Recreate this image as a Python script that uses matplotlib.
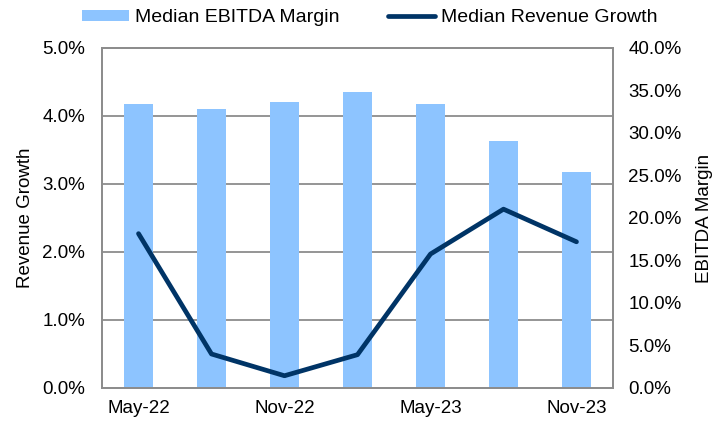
import matplotlib
matplotlib.use("Agg")
import matplotlib.pyplot as plt
from matplotlib.ticker import FuncFormatter, MultipleLocator
from matplotlib.patches import Patch
from matplotlib.lines import Line2D

plt.rcParams['font.family'] = ['Liberation Sans', 'DejaVu Sans']

categories = ["May-22", "Aug-22", "Nov-22", "Feb-23", "May-23", "Aug-23", "Nov-23"]
ebitda_margin = [33.4, 32.8, 33.6, 34.8, 33.4, 29.1, 25.4]
revenue_growth = [2.27, 0.50, 0.18, 0.49, 1.97, 2.63, 2.15]
shown_labels = ["May-22", "", "Nov-22", "", "May-23", "", "Nov-23"]

bar_color = "#8DC4FF"
line_color = "#003466"
grid_color = "#8C8C8C"
fs = 13.5
lfs = 14

fig = plt.figure(figsize=(7.22, 4.21), dpi=100)
ax = fig.add_axes([0.1413, 0.0784, 0.7077, 0.8076])
ax2 = ax.twinx()

x = list(range(len(categories)))
ax2.bar(x, ebitda_margin, width=0.4, color=bar_color, zorder=2)
ax.set_zorder(ax2.get_zorder() + 1)
ax.patch.set_visible(False)
ax.plot(x, revenue_growth, color=line_color, linewidth=3.4, solid_capstyle='round',
        solid_joinstyle='round', zorder=3)

ax.set_xlim(-0.5, len(categories) - 0.5)
ax.set_ylim(0, 5)
ax2.set_ylim(0, 40)
ax.yaxis.set_major_locator(MultipleLocator(1))
ax2.yaxis.set_major_locator(MultipleLocator(5))
ax.yaxis.set_major_formatter(FuncFormatter(lambda v, p: f"{v:.1f}%"))
ax2.yaxis.set_major_formatter(FuncFormatter(lambda v, p: f"{v:.1f}%"))
ax.set_xticks(x)
ax.set_xticklabels(shown_labels)

ax2.grid(False)
for yv in [1, 2, 3, 4]:
    ax2.axhline(yv * 8, color=grid_color, linewidth=1.3, zorder=1)

for a in (ax, ax2):
    for s in a.spines.values():
        s.set_color(grid_color)
        s.set_linewidth(1.3)
    a.tick_params(length=0, labelsize=fs, colors="black")

ax.tick_params(axis='y', pad=12)
ax2.tick_params(axis='y', pad=11)
ax.tick_params(axis='x', pad=9)
ax.set_ylabel("Revenue Growth", fontsize=fs, labelpad=6)
ax2.set_ylabel("EBITDA Margin", fontsize=fs, labelpad=10)

handles = [Patch(facecolor=bar_color, edgecolor='none'),
           Line2D([0], [0], color=line_color, linewidth=3.4, solid_capstyle='round')]
fig.legend(handles, ["Median EBITDA Margin", "Median Revenue Growth"],
           loc='center', bbox_to_anchor=(0.512, 0.958), ncol=2, frameon=False,
           fontsize=lfs, handlelength=2.42, handletextpad=0.31, columnspacing=2.5,
           handleheight=0.54, borderpad=0.2)

fig.savefig("out.png", dpi=100)
